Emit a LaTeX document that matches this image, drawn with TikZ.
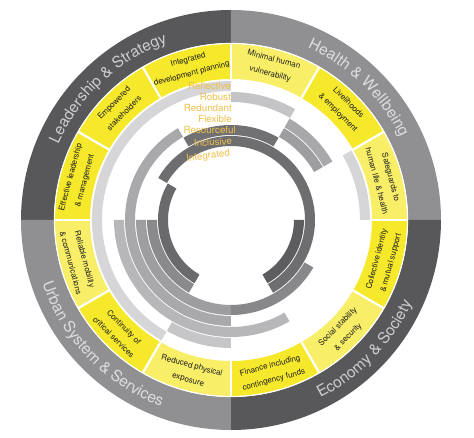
\documentclass[tikz,border=0pt]{standalone}
\usepackage{fontspec}
\setmainfont{TeX Gyre Heros}
\usetikzlibrary{decorations.text}
\definecolor{ringdark}{HTML}{58585B}
\definecolor{ringmid}{HTML}{909093}
\definecolor{ybright}{HTML}{F6E92B}
\definecolor{ylight}{HTML}{F8EE68}
\definecolor{catdark}{HTML}{CDCDCF}
\definecolor{catmid}{HTML}{DEDEE0}
\definecolor{qlabel}{HTML}{EFC04A}
\definecolor{gone}{HTML}{D6D6D8}
\definecolor{gtwoa}{HTML}{C4C4C6}
\definecolor{gtwob}{HTML}{C6C6C8}
\definecolor{gthreea}{HTML}{A8A8AA}
\definecolor{gthreeb}{HTML}{B7B7B9}
\definecolor{gfoura}{HTML}{9E9EA0}
\definecolor{gfourb}{HTML}{A9A9AB}
\definecolor{gfivea}{HTML}{717174}
\definecolor{gfiveb}{HTML}{9E9EA0}
\definecolor{gfivec}{HTML}{88888A}
\definecolor{gsixa}{HTML}{6E6E71}
\definecolor{gsixb}{HTML}{8A8A8C}
\definecolor{gsevena}{HTML}{6A6A6C}
\definecolor{gsevenb}{HTML}{5D5D60}
\newcommand\annseg[5]{\fill[#5] (#1:#3) arc[start angle=#1,end angle=#2,radius=#3] -- (#2:#4) arc[start angle=#2,end angle=#1,radius=#4] -- cycle;}
\tikzset{
  gtext/.style={align=center, font=\fontsize{8}{14.5}\selectfont, text=black!88, inner sep=0pt},
  qtext/.style={anchor=east, font=\fontsize{9.8}{9.8}\selectfont, text=qlabel, inner sep=0pt},
}
\begin{document}
\begin{tikzpicture}[x=1pt,y=1pt]
\useasboundingbox (-231,-218) rectangle (243,220);
\fill[white] (-231,-218) rectangle (243,220);
% outer category ring
\annseg{90}{180}{177}{210}{ringdark}
\annseg{0}{90}{177}{210}{ringmid}
\annseg{-90}{0}{177}{210}{ringdark}
\annseg{180}{270}{177}{210}{ringmid}
% yellow goals ring
\annseg{0}{30}{141}{176}{ylight}
\annseg{30}{60}{141}{176}{ybright}
\annseg{60}{90}{141}{176}{ylight}
\annseg{90}{120}{141}{176}{ybright}
\annseg{120}{150}{141}{176}{ybright}
\annseg{150}{180}{141}{176}{ybright}
\annseg{180}{210}{141}{176}{ylight}
\annseg{210}{240}{141}{176}{ybright}
\annseg{240}{270}{141}{176}{ylight}
\annseg{270}{300}{141}{176}{ybright}
\annseg{300}{330}{141}{176}{ylight}
\annseg{330}{360}{141}{176}{ybright}
\foreach \a in {0,30,...,330} \draw[white, line width=2.2pt] (\a:139) -- (\a:176.6);
\draw[white, line width=1pt] (0,0) circle[radius=176.6];
% quality rings (inner)
\annseg{90}{240}{129}{139}{gone}
\annseg{0}{30}{129}{139}{gone}
\annseg{60}{90}{118}{128}{gtwoa}
\annseg{240}{270}{118}{128}{gtwob}
\annseg{30}{60}{107}{117}{gthreea}
\annseg{180}{300}{107}{117}{gthreeb}
\annseg{30}{60}{96}{106}{gfoura}
\annseg{120}{270}{96}{106}{gfourb}
\annseg{60}{120}{85}{95}{gfivea}
\annseg{180}{270}{85}{95}{gfiveb}
\annseg{270}{330}{85}{95}{gfivec}
\annseg{-60}{150}{74}{84}{gsixa}
\annseg{180}{240}{74}{84}{gsixb}
\annseg{150}{240}{63}{73}{gsevena}
\annseg{-60}{0}{63}{73}{gsevenb}
% quality labels
\node[qtext] (q1) at (0,134) {Reflective};
\node[qtext] (q2) at (0,123) {Robust};
\node[qtext] (q3) at (1,112) {Redundant};
\node[qtext] (q4) at (1,101) {Flexible};
\node[qtext] (q5) at (5,90) {Resourceful};
\node[qtext, rotate=3] (q6) at (1,79) {Inclusive};
\node[qtext, rotate=8] (q7) at (-1,67) {Integrated};
% goal labels
\node[gtext, rotate=15] (g1) at (105:158.5) {Integrated\\development planning};
\node[gtext, rotate=45] (g2) at (135:158.5) {Empowered\\stakeholders};
\node[gtext, rotate=75] (g3) at (165:158.5) {Effective leadership\\\& management};
\node[gtext, rotate=-75] (g4) at (195:158.5) {Reliable mobility\\\& communications};
\node[gtext, rotate=-45] (g5) at (225:158.5) {Continuity of\\critical services};
\node[gtext, rotate=-15] (g6) at (255:158.5) {Reduced physical\\exposure};
\node[gtext, rotate=15] (g7) at (285:158.5) {Finance including\\contingency funds};
\node[gtext, rotate=45] (g8) at (315:158.5) {Social stability\\\& security};
\node[gtext, rotate=75] (g9) at (345:158.5) {Collective identity\\\& mutual support};
\node[gtext, rotate=-75] (g10) at (15:158.5) {Safeguards to\\human life \& health};
\node[gtext, rotate=-45] (g11) at (45:158.5) {Livelihoods\\\& employment};
\node[gtext, rotate=-15] (g12) at (75:158.5) {Minimal human\\vulnerability};
% category labels along the ring
\path[decorate, decoration={text along path, text align=center,
  text={|\fontsize{15.5}{15.5}\selectfont\color{catdark}|Leadership {\&} Strategy}}]
  (176:188.5) arc[start angle=176, end angle=90, radius=188.5];
\path[decorate, decoration={text along path, text align=center,
  text={|\fontsize{15.5}{15.5}\selectfont\color{catmid}|Health {\&} Wellbeing}}]
  (90:188.5) arc[start angle=90, end angle=2, radius=188.5];
\path[decorate, decoration={text along path, text align=center,
  text={|\fontsize{15.5}{15.5}\selectfont\color{catdark}|Economy {\&} Society}}]
  (-88:199) arc[start angle=-88, end angle=0, radius=199];
\path[decorate, decoration={text along path, text align=center,
  text={|\fontsize{15.5}{15.5}\selectfont\color{catmid}|Urban System {\&} Services}}]
  (180:199) arc[start angle=180, end angle=268, radius=199];
\end{tikzpicture}
\end{document}
